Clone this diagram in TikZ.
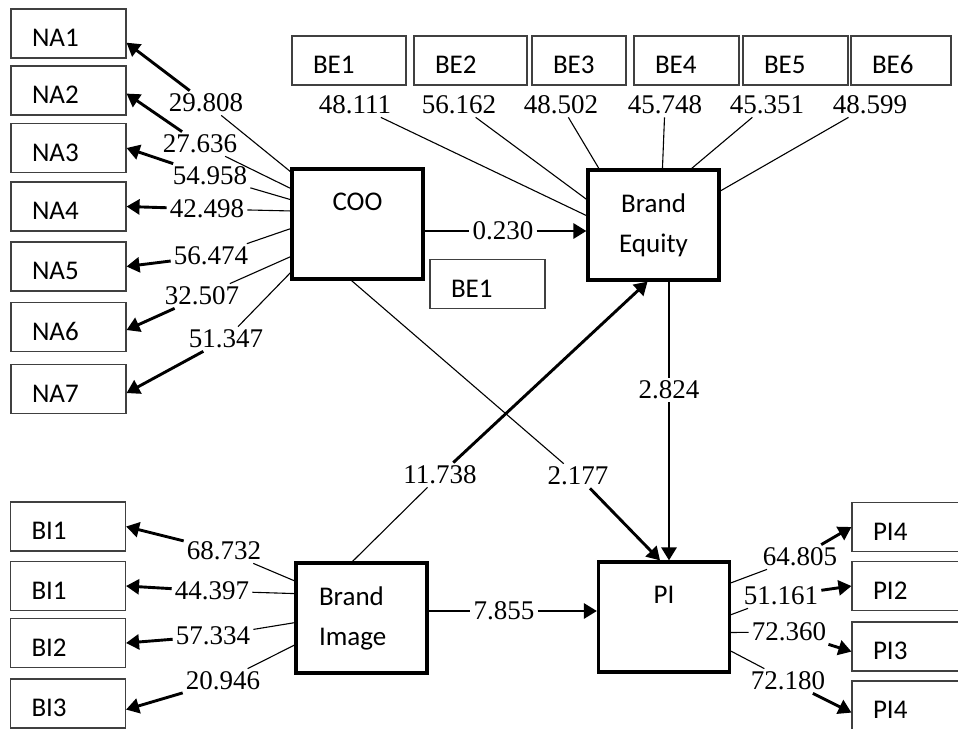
\documentclass[tikz,border=0pt]{standalone}
\usepackage{fontspec}
\setmainfont{Liberation Serif}
\newfontfamily\boxfont{Carlito}
\usetikzlibrary{arrows.meta}

\begin{document}
\begin{tikzpicture}[x=1pt, y=-1pt,
    ind/.style={draw=black!75, line width=1.1pt, font=\boxfont\fontsize{27}{32}\selectfont,
        minimum height=49pt, text width=73pt, align=left, inner xsep=21pt,
        text height=26pt, text depth=0pt},
    latent/.style={draw, line width=3.2pt, font=\boxfont\fontsize{27}{40}\selectfont,
        minimum width=131pt, minimum height=110pt},
    toptext/.style={text height=20pt, text depth=48pt, inner ysep=0pt},
    val/.style={font=\fontsize{27}{32}\selectfont, inner sep=3pt},
    thinline/.style={line width=1.1pt},
    arr/.style={line width=2.9pt, -{Triangle[length=13pt,width=15pt]}}]
    \useasboundingbox (0,0) rectangle (958,728);
    \clip (0,0) rectangle (958,728);

    % constructs
    \node[latent, toptext] (coo) at (357.5,224) {COO};
    \node[latent, align=center] (beq) at (653.5,225) {Brand\\Equity};
    \node[latent, align=left, text width=85pt, inner xsep=23pt] (bim) at (361.5,618) {Brand\\Image};
    \node[latent, toptext] (pi) at (664,617) {PI};

    % indicators
    \foreach \i/\y in {1/33.5, 2/90.5, 3/148, 4/206.5, 5/266.5, 6/327, 7/389}
        \node[ind] (na\i) at (68.5,\y) {NA\i};
    \foreach \i/\x/\w in {1/349/114, 2/470.5/113, 3/579/94, 4/686.5/105, 5/795.5/105, 6/901/100} {
        \pgfmathsetmacro\tw{\w-42}
        \node[ind, text width=\tw pt] (be\i) at (\x,60.5) {BE\i};
    }
    \node[ind] (bex) at (487.5,284) {BE1};
    \foreach \n/\t/\y in {bia/BI1/526.5, bib/BI1/586, bic/BI2/643, bid/BI3/703.5}
        \node[ind] (\n) at (68,\y) {\t};
    \foreach \n/\t/\y in {pia/PI4/527, pib/PI2/586, pic/PI3/646.5, pid/PI4/705.5}
        \node[ind] (\n) at (909.5,\y) {\t};

    % COO loadings
    \foreach \i/\v/\lx/\ly/\a/\b in {1/29.808/206/103/142.7/351.6, 2/27.636/200/144/152.7/357.5,
        3/54.958/210/176/160.9/0, 4/42.498/207/209/169.1/0, 5/56.474/211/256/184.8/0,
        6/32.507/202/296/206.6/357, 7/51.347/226/339/216.2/356} {
        \node[val] (nv\i) at (\lx,\ly) {\v};
        \draw[thinline] (coo.\a) -- (nv\i);
        \draw[arr] (nv\i) -- (na\i.\b);
    }

    % Brand Equity loadings
    \foreach \i/\v/\lx/\a in {1/48.111/355/172.2, 2/56.162/459/159.1, 3/48.502/561/134.2,
        4/45.748/665/81.2, 5/45.351/767/56.4, 6/48.599/870/27.4} {
        \node[val] (bv\i) at (\lx,105) {\v};
        \draw[thinline] (bv\i) -- (beq.\a);
    }

    % Brand Image loadings
    \foreach \n/\v/\lx/\ly/\a/\b in {bia/68.732/224/551/151.9/0, bib/44.397/212/591/160.7/0,
        bic/57.334/213/636/184.4/0, bid/20.946/223/681/202.4/354.5} {
        \node[val] (v\n) at (\lx,\ly) {\v};
        \draw[thinline] (bim.\a) -- (v\n);
        \draw[arr] (v\n) -- (\n.\b);
    }

    % PI loadings
    \foreach \n/\v/\lx/\ly/\a/\b in {pia/64.805/800/557/27.6/180, pib/51.161/781/596/2.6/180,
        pic/72.360/789/632/347/185.5, pid/72.180/788/681/333.1/187.4} {
        \node[val] (v\n) at (\lx,\ly) {\v};
        \draw[thinline] (pi.\a) -- (v\n);
        \draw[arr] (v\n) -- (\n.\b);
    }

    % structural paths
    \node[val] (p1) at (503,231) {0.230};
    \draw[thinline] (coo.east |- p1) -- (p1);
    \draw[arr] (p1) -- (beq.west |- p1);

    \node[val] (p2) at (440,475) {11.738};
    \draw[thinline] (bim.99.8) -- (p2);
    \draw[arr] (p2) -- (beq.264.3);

    \node[val] (p3) at (578,476) {2.177};
    \draw[thinline] (coo.264.3) -- (p3);
    \draw[arr] (p3) -- (pi.94.2);

    \node[val] (p4) at (669,390) {2.824};
    \draw[thinline] (beq.south -| p4) -- (p4);
    \draw[arr] (p4) -- (pi.north -| p4);

    \node[val] (p5) at (504,611) {7.855};
    \draw[thinline] (bim.east |- p5) -- (p5);
    \draw[arr] (p5) -- (pi.west |- p5);
\end{tikzpicture}
\end{document}
